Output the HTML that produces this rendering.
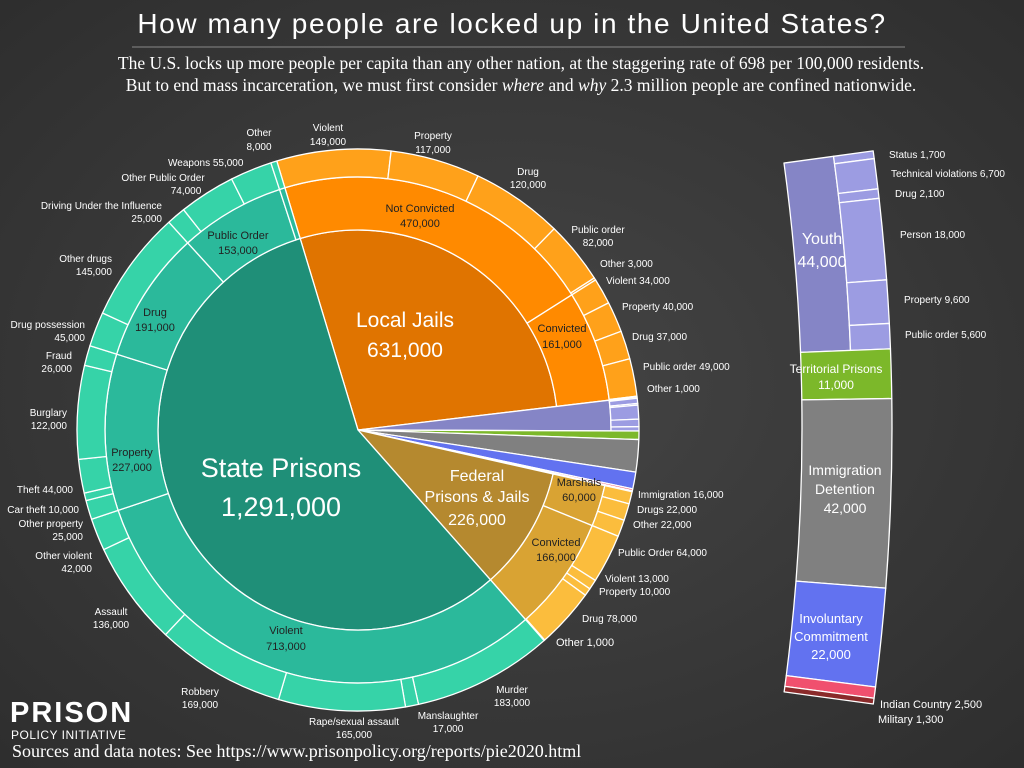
<!DOCTYPE html>
<html><head><meta charset="utf-8"><style>
html,body{margin:0;padding:0;background:#3a3a3a;}
svg{display:block;}
text{font-family:"Liberation Sans",sans-serif;}
</style></head><body>
<svg id="s" width="1024" height="768" viewBox="0 0 1024 768" xmlns="http://www.w3.org/2000/svg">
<defs><radialGradient id="bg" cx="50%" cy="50%" r="70%"><stop offset="0" stop-color="#454545"/><stop offset="1" stop-color="#2e2e2e"/></radialGradient></defs>
<rect width="1024" height="768" fill="url(#bg)"/>
<g id="pie"></g>
<g id="bar"></g>
<g fill="#fff">
<text x="512" y="33" font-size="28" text-anchor="middle" letter-spacing="1.6">How many people are locked up in the United States?</text>
<line x1="132" y1="47" x2="905" y2="47" stroke="#888" stroke-width="1"/>
<text x="521" y="69" font-size="17.5" text-anchor="middle" style="font-family:'Liberation Serif',serif">The U.S. locks up more people per capita than any other nation, at the staggering rate of 698 per 100,000 residents.</text>
<text x="521" y="91" font-size="17.5" text-anchor="middle" style="font-family:'Liberation Serif',serif">But to end mass incarceration, we must first consider <tspan font-style="italic">where</tspan> and <tspan font-style="italic">why</tspan> 2.3 million people are confined nationwide.</text>
<text x="12" y="757" font-size="18" style="font-family:'Liberation Serif',serif">Sources and data notes: See https://www.prisonpolicy.org/reports/pie2020.html</text>
<text x="10" y="722" font-size="29" font-weight="bold" letter-spacing="2">PRISON</text>
<text x="11" y="739" font-size="12" letter-spacing="0.5">POLICY INITIATIVE</text>
</g>
<g fill="#fff" font-size="10" text-anchor="middle">
<text x="259" y="136">Other</text><text x="259" y="150">8,000</text>
<text x="328" y="131">Violent</text><text x="328" y="145">149,000</text>
<text x="433" y="139">Property</text><text x="433" y="153">117,000</text>
<text x="528" y="175">Drug</text><text x="528" y="188">120,000</text>
<text x="598" y="233">Public order</text><text x="598" y="246">82,000</text>
<text x="600" y="267" text-anchor="start">Other 3,000</text>
<text x="606" y="284" text-anchor="start">Violent 34,000</text>
<text x="622" y="310" text-anchor="start">Property 40,000</text>
<text x="632" y="340" text-anchor="start">Drug 37,000</text>
<text x="643" y="370" text-anchor="start">Public order 49,000</text>
<text x="647" y="392" text-anchor="start">Other 1,000</text>
<text x="168" y="166" text-anchor="start">Weapons  55,000</text>
<text x="163" y="181">Other Public Order</text><text x="186" y="194">74,000</text>
<text x="162" y="209" text-anchor="end">Driving Under the Influence</text><text x="162" y="222" text-anchor="end">25,000</text>
<text x="112" y="262" text-anchor="end">Other drugs</text><text x="112" y="275" text-anchor="end">145,000</text>
<text x="85" y="328" text-anchor="end">Drug possession</text><text x="85" y="341" text-anchor="end">45,000</text>
<text x="72" y="359" text-anchor="end">Fraud</text><text x="72" y="372" text-anchor="end">26,000</text>
<text x="67" y="416" text-anchor="end">Burglary</text><text x="67" y="429" text-anchor="end">122,000</text>
<text x="73" y="493" text-anchor="end">Theft 44,000</text>
<text x="79" y="513" text-anchor="end">Car theft 10,000</text>
<text x="83" y="527" text-anchor="end">Other property</text><text x="83" y="540" text-anchor="end">25,000</text>
<text x="92" y="559" text-anchor="end">Other violent</text><text x="92" y="572" text-anchor="end">42,000</text>
<text x="111" y="615">Assault</text><text x="111" y="628">136,000</text>
<text x="200" y="695">Robbery</text><text x="200" y="708">169,000</text>
<text x="354" y="725">Rape/sexual assault</text><text x="354" y="738">165,000</text>
<text x="448" y="719">Manslaughter</text><text x="448" y="732">17,000</text>
<text x="512" y="693">Murder</text><text x="512" y="706">183,000</text>
<text x="556" y="646" text-anchor="start" font-size="11">Other 1,000</text>
<text x="582" y="622" text-anchor="start">Drug 78,000</text>
<text x="599" y="595" text-anchor="start">Property 10,000</text>
<text x="605" y="582" text-anchor="start">Violent 13,000</text>
<text x="618" y="556" text-anchor="start">Public Order 64,000</text>
<text x="633" y="528" text-anchor="start">Other 22,000</text>
<text x="637" y="513" text-anchor="start">Drugs 22,000</text>
<text x="638" y="498" text-anchor="start">Immigration 16,000</text>
<text x="889" y="158" text-anchor="start">Status 1,700</text>
<text x="891" y="177" text-anchor="start">Technical violations 6,700</text>
<text x="895" y="197" text-anchor="start">Drug 2,100</text>
<text x="900" y="238" text-anchor="start">Person 18,000</text>
<text x="904" y="303" text-anchor="start">Property 9,600</text>
<text x="905" y="338" text-anchor="start">Public order 5,600</text>
<text x="880" y="708" text-anchor="start" font-size="11">Indian Country 2,500</text>
<text x="878" y="723" text-anchor="start" font-size="11">Military 1,300</text>
</g>
<g fill="#222" font-size="11" text-anchor="middle">
<text x="238" y="239">Public Order</text><text x="238" y="254">153,000</text>
<text x="155" y="316">Drug</text><text x="155" y="331">191,000</text>
<text x="132" y="456">Property</text><text x="132" y="471">227,000</text>
<text x="286" y="634">Violent</text><text x="286" y="650">713,000</text>
<text x="420" y="212">Not Convicted</text><text x="420" y="227">470,000</text>
<text x="562" y="332">Convicted</text><text x="562" y="348">161,000</text>
<text x="579" y="486">Marshals</text><text x="579" y="501">60,000</text>
<text x="556" y="546">Convicted</text><text x="556" y="561">166,000</text>
</g>
<g fill="#fff" text-anchor="middle">
<text x="405" y="327" font-size="21">Local Jails</text><text x="405" y="357" font-size="21">631,000</text>
<text x="281" y="477" font-size="27">State Prisons</text><text x="281" y="516" font-size="27">1,291,000</text>
<text x="477" y="481" font-size="16">Federal</text><text x="477" y="502" font-size="16">Prisons &amp; Jails</text><text x="477" y="525" font-size="16">226,000</text>
<text x="822" y="244" font-size="16">Youth</text><text x="822" y="267" font-size="16">44,000</text>
<text x="836" y="373" font-size="12">Territorial Prisons</text><text x="836" y="389" font-size="12">11,000</text>
<text x="845" y="475" font-size="14">Immigration</text><text x="845" y="494" font-size="14">Detention</text><text x="845" y="513" font-size="14">42,000</text>
<text x="831" y="623" font-size="13">Involuntary</text><text x="831" y="641" font-size="13">Commitment</text><text x="831" y="659" font-size="13">22,000</text>
</g>
</svg>
<script>
(function(){
var NS="http://www.w3.org/2000/svg";
function P(cx,cy,r,a){a=a*Math.PI/180;return [cx+r*Math.sin(a),cy-r*Math.cos(a)];}
function sector(g,cx,cy,r0,r1,a0,a1,fill){
 var la=(a1-a0)>180?1:0,p1=P(cx,cy,r1,a0),p2=P(cx,cy,r1,a1),d;
 if(r0<=0){d="M"+cx+","+cy+"L"+p1+"A"+r1+","+r1+" 0 "+la+" 1 "+p2+"Z";}
 else{var p3=P(cx,cy,r0,a1),p4=P(cx,cy,r0,a0);d="M"+p1+"A"+r1+","+r1+" 0 "+la+" 1 "+p2+"L"+p3+"A"+r0+","+r0+" 0 "+la+" 0 "+p4+"Z";}
 var e=document.createElementNS(NS,"path");e.setAttribute("d",d);e.setAttribute("fill",fill);
 e.setAttribute("stroke","#fff");e.setAttribute("stroke-width","1.3");e.setAttribute("stroke-linejoin","round");g.appendChild(e);
}
var g=document.getElementById("pie"),cx=358,cy=430,R0=200,R1=253,R2=281;
var T=2270800,k=360/T,a=-16.8;
function sum(l){return l.reduce(function(s,x){return s+x;},0);}
function group(val,cIn,cMid,cOut,mids){
 var a0=a,a1=a+val*k;sector(g,cx,cy,0,R0,a0,a1,cIn);
 var tm=sum(mids.map(function(m){return m[0];})),b=a0;
 mids.forEach(function(m){var b1=b+(a1-a0)*m[0]/tm;sector(g,cx,cy,R0,R1,b,b1,cMid);
  var to=sum(m[1]),c=b;m[1].forEach(function(v){var c1=c+(b1-b)*v/to;sector(g,cx,cy,R1,R2,c,c1,cOut);c=c1;});b=b1;});
 a=a1;
}
group(631000,"#e07400","#ff8a00","#ffa11a",[[470,[149,117,120,82,3]],[161,[34,40,37,49,1]]]);
(function(){var a0=a,a1=a+44000*k;sector(g,cx,cy,0,R1,a0,a1,"#8585c6");var l=[1.7,6.7,2.1,18,9.6,5.6],t=sum(l),c=a0;l.forEach(function(v){var c1=c+(a1-a0)*v/t;sector(g,cx,cy,R1,R2,c,c1,"#9c9ce2");c=c1;});a=a1;})();
[[11000,"#7cb82a"],[42000,"#808080"],[22000,"#6272f0"],[2500,"#f0506e"],[1300,"#8a2a2a"]].forEach(function(s){var a1=a+s[0]*k;sector(g,cx,cy,0,R2,a,a1,s[1]);a=a1;});
group(226000,"#b5892f","#d9a333","#fbbd3d",[[60,[16,22,22]],[166,[64,13,10,78,1]]]);
group(1291000,"#1f8f78","#2bb99b","#36d3a8",[[713,[183,17,165,169,136,42]],[227,[25,10,44,122,26]],[191,[45,145]],[153,[25,74,55]],[8,[8]]]);
var b=document.getElementById("bar"),bx=-1155,by=428,Ri=1957,Rm=2007,Ro=2047,A0=-7.78,A1=7.75,tot=122800,q=(A1-A0)/tot,s;
var yEnd=A0+44000*q;
sector(b,bx,by,Ri,Rm,90+A0,90+yEnd,"#8585c6");
var l=[1.7,6.7,2.1,18,9.6,5.6],t=sum(l),c=A0;l.forEach(function(v){var c1=c+(yEnd-A0)*v/t;sector(b,bx,by,Rm,Ro,90+c,90+c1,"#9c9ce2");c=c1;});
s=yEnd;
[[11000,"#7cb82a"],[42000,"#808080"],[22000,"#6272f0"],[2500,"#f0506e"],[1300,"#8a2a2a"]].forEach(function(x){var s1=s+x[0]*q;sector(b,bx,by,Ri,Ro,90+s,90+s1,x[1]);s=s1;});
})();
</script>
</body></html>
